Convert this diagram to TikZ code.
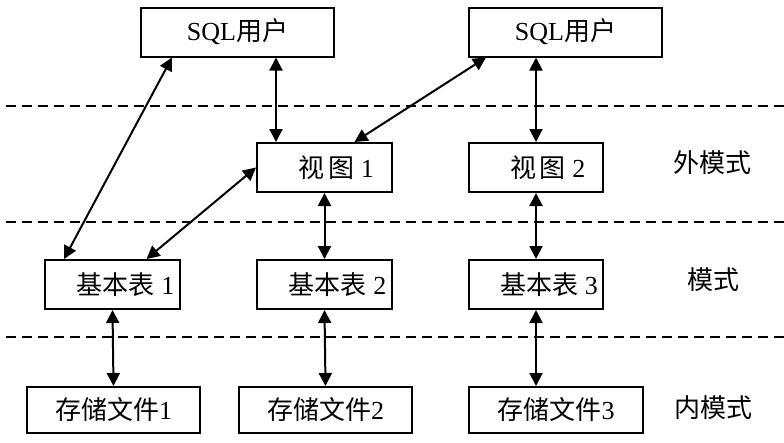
\documentclass[tikz,border=0pt]{standalone}
\usepackage{fontspec}
\setmainfont{Liberation Serif}
\newfontfamily\zhfont{Noto Sans CJK SC}
\newcommand{\zh}[1]{{\zhfont #1}}
\usepackage{tikz}
\usetikzlibrary{arrows.meta, calc}

\begin{document}
\begin{tikzpicture}[x=1pt, y=-1pt,
    box/.style={rectangle, draw, line width=2pt, minimum height=49pt,
                inner sep=0pt, font=\fontsize{26}{30}\selectfont},
    arr/.style={{Triangle[length=13pt, width=13pt]}-{Triangle[length=13pt, width=13pt]},
                line width=2pt},
    layer/.style={dash pattern=on 10pt off 6pt, line width=1.6pt},
    lvl/.style={font=\fontsize{26}{30}\selectfont}
  ]
  \useasboundingbox (0,0) rectangle (784,442);

  \foreach \ly in {106, 222, 337}
    \draw[layer] (6,\ly) -- (784,\ly);

  \node[box, minimum width=193pt] (sqlA) at (237.5, 32) {SQL\zh{用户}};
  \node[box, minimum width=193pt] (sqlB) at (565.5, 32) {SQL\zh{用户}};

  \node[box, minimum width=135pt] (view1) at (324.5, 167.5)
        {\hspace{0.9em}\zh{视\hspace{0.15em}图} 1};
  \node[box, minimum width=134pt] (view2) at (536, 167.5)
        {\hspace{0.9em}\zh{视\hspace{0.15em}图} 2};

  \node[box, minimum width=135pt] (tab1) at (112.5, 284.5)
        {\hspace{1em}\zh{基本表} 1};
  \node[box, minimum width=135pt] (tab2) at (324.5, 284.5)
        {\hspace{1em}\zh{基本表} 2};
  \node[box, minimum width=134pt] (tab3) at (536, 284.5)
        {\hspace{1em}\zh{基本表} 3};

  \node[box, minimum width=173pt, minimum height=46pt] (file1) at (113.5, 410)
        {\zh{存储文件}1};
  \node[box, minimum width=173pt, minimum height=46pt] (file2) at (325.5, 410)
        {\zh{存储文件}2};
  \node[box, minimum width=174pt, minimum height=46pt] (file3) at (556, 410)
        {\zh{存储文件}3};

  \node[lvl] (extL) at (712, 163) {\zh{外模式}};
  \node[lvl] (conL) at (713, 280) {\zh{模式}};
  \node[lvl] (intL) at (713, 408) {\zh{内模式}};

  \draw[arr] ([xshift=20pt]view1.north west) -- ([xshift=20pt]view1.north west |- sqlA.south);
  \draw[arr] (view2.north) -- (view2.north |- sqlB.south);
  \draw[arr] ([xshift=32pt]sqlA.south west) -- ([xshift=20pt]tab1.north west);
  \draw[arr] ([xshift=18pt]sqlB.south west) -- ([xshift=30pt]view1.north);
  \draw[arr] (view1.west) -- ([xshift=34pt]tab1.north);

  \foreach \up/\dn in {view1/tab2, view2/tab3, tab1/file1, tab2/file2}
    \draw[arr] (\up.south) -- (\dn.north);
  \draw[arr] (tab3.south) -- (tab3.south |- file3.north);
\end{tikzpicture}
\end{document}
